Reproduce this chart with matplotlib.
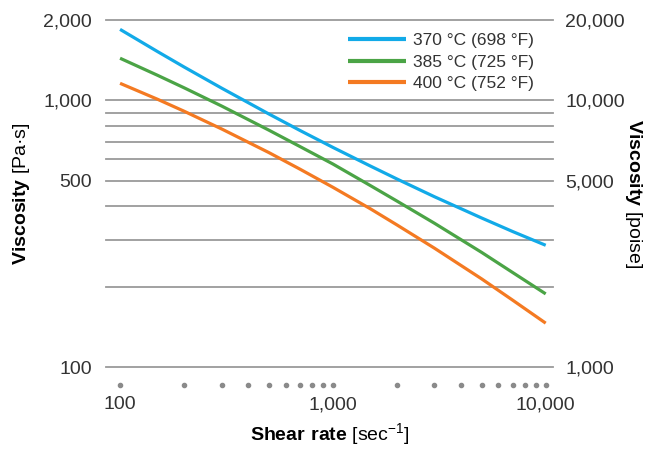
import numpy as np
import matplotlib
matplotlib.use('Agg')
import matplotlib.pyplot as plt
import matplotlib.transforms as mtransforms
from matplotlib.ticker import FixedLocator, NullFormatter

plt.rcParams['font.family'] = ['Liberation Sans', 'DejaVu Sans']
plt.rcParams['mathtext.fontset'] = 'custom'
plt.rcParams['mathtext.rm'] = 'Liberation Sans'
plt.rcParams['mathtext.bf'] = 'Liberation Sans:bold'
plt.rcParams['text.color'] = '#222222'

# data
shear = [100, 150, 200, 300, 500, 700, 1000, 1500, 2000, 3000, 5000, 7000, 10000]
visc_370 = [1845, 1523, 1333, 1111, 889, 771, 666, 567, 507, 435, 362, 322, 286]
visc_385 = [1438, 1241, 1114, 952, 773, 671, 577, 479, 419, 346, 269, 226, 188]
visc_400 = [1158, 1009, 910, 781, 637, 552, 472, 392, 341, 279, 214, 178, 146]
labels = ['370 °C (698 °F)', '385 °C (725 °F)', '400 °C (752 °F)']
colors = ['#12aae8', '#4ba446', '#f47a22']

y_major = [100, 500, 1000, 2000]
y_minor = [200, 300, 400, 600, 700, 800, 900]
x_major = [100, 1000, 10000]
x_dots = [100, 200, 300, 400, 500, 600, 700, 800, 900,
          1000, 2000, 3000, 4000, 5000, 6000, 7000, 8000, 9000, 10000]

fig = plt.figure(figsize=(6.51, 4.55), dpi=100)
ax = fig.add_axes([0.163, 0.1934, 0.686, 0.7626])

for ys, lab, c in zip([visc_370, visc_385, visc_400], labels, colors):
    ax.plot(shear, ys, color=c, lw=2.3, label=lab, solid_capstyle='butt')

ax.set_xscale('log')
ax.set_yscale('log')
ax.set_xlim(86.0, 10786)
ax.set_ylim(100, 2000)

ax.yaxis.set_major_locator(FixedLocator(y_major))
ax.yaxis.set_minor_locator(FixedLocator(y_minor))
ax.set_yticklabels(['100', '500', '1,000', '2,000'])
ax.yaxis.set_minor_formatter(NullFormatter())
ax.xaxis.set_major_locator(FixedLocator(x_major))
ax.xaxis.set_minor_locator(FixedLocator([]))
ax.set_xticklabels(['100', '1,000', '10,000'])

ax.grid(True, axis='y', which='both', color='#9a9a9a', lw=1.3)
for s in ax.spines.values():
    s.set_visible(False)
ax.tick_params(axis='both', which='both', length=0, labelsize=14, colors='#333333')
ax.tick_params(axis='y', pad=10)
ax.tick_params(axis='x', pad=21)
for t in ax.yaxis.get_major_ticks() + ax.yaxis.get_minor_ticks():
    t.gridline.set_clip_on(False)

# grey dots marking the minor x ticks below the plot
trans = mtransforms.blended_transform_factory(ax.transData, ax.transAxes)
ax.scatter(x_dots, [-0.052] * len(x_dots), s=9, color='#8a8a8a',
           transform=trans, clip_on=False, zorder=3)

ax2 = ax.twinx()
ax2.set_yscale('log')
ax2.set_ylim(1000, 20000)
ax2.yaxis.set_major_locator(FixedLocator([1000, 5000, 10000, 20000]))
ax2.yaxis.set_minor_locator(FixedLocator([]))
ax2.set_yticklabels(['1,000', '5,000', '10,000', '20,000'])
for s in ax2.spines.values():
    s.set_visible(False)
ax2.tick_params(axis='y', length=0, labelsize=14, colors='#333333', pad=9)

ax.set_xlabel(r'$\bf{Shear\ rate}$ [sec$^{-1}$]', fontsize=14, labelpad=6)
ax.set_ylabel(r'$\bf{Viscosity}$ [Pa·s]', fontsize=14, labelpad=8)
ax2.set_ylabel(r'$\bf{Viscosity}$ [poise]', fontsize=14, rotation=270,
               labelpad=14)

leg = ax.legend(loc='upper left', bbox_to_anchor=(0.525, 0.982), frameon=False,
                fontsize=12.5, handlelength=3.34, handletextpad=0.46,
                labelspacing=0.36, borderaxespad=0)
for t in leg.get_texts():
    t.set_color('#333333')
for h in leg.legend_handles:
    h.set_linewidth(3)

fig.savefig('out.png', dpi=100)
